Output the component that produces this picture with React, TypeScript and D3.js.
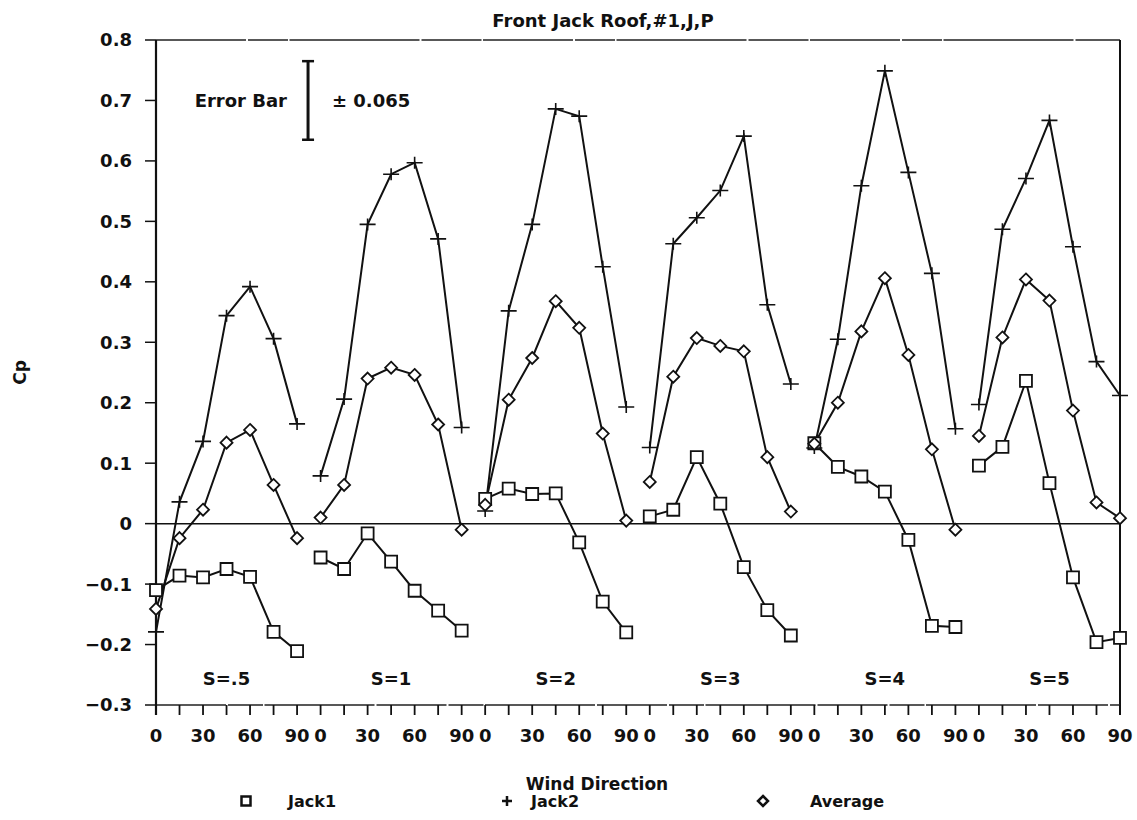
import * as d3 from "d3";

const MARGIN = { top: 40, right: 17, bottom: 115, left: 156 };
const WIDTH = 1137;
const HEIGHT = 820;
const FONT = "'DejaVu Sans', Verdana, sans-serif";

// wind directions measured within each spacing group
const windDirections = [0, 15, 30, 45, 60, 75, 90];
const spacingLabels = ["S=.5", "S=1", "S=2", "S=3", "S=4", "S=5"];
const xTickLabels = [0, 30, 60, 90];
const yTicks = [-0.3, -0.2, -0.1, 0, 0.1, 0.2, 0.3, 0.4, 0.5, 0.6, 0.7, 0.8];

// Cp values, one row per spacing group
const jack1 = [
  [-0.11, -0.086, -0.089, -0.075, -0.088, -0.179, -0.211],
  [-0.056, -0.075, -0.016, -0.063, -0.111, -0.144, -0.177],
  [0.041, 0.058, 0.049, 0.05, -0.031, -0.129, -0.18],
  [0.012, 0.023, 0.11, 0.033, -0.072, -0.143, -0.185],
  [0.133, 0.094, 0.078, 0.053, -0.027, -0.169, -0.171],
  [0.096, 0.127, 0.236, 0.067, -0.089, -0.196, -0.189],
];
const jack2 = [
  [-0.179, 0.036, 0.136, 0.344, 0.392, 0.306, 0.165],
  [0.079, 0.206, 0.495, 0.578, 0.597, 0.471, 0.159],
  [0.021, 0.352, 0.495, 0.686, 0.674, 0.425, 0.193],
  [0.126, 0.463, 0.506, 0.551, 0.641, 0.362, 0.231],
  [0.125, 0.305, 0.559, 0.749, 0.581, 0.414, 0.157],
  [0.197, 0.487, 0.571, 0.667, 0.458, 0.268, 0.212],
];
const average = [
  [-0.141, -0.024, 0.023, 0.134, 0.155, 0.064, -0.024],
  [0.01, 0.064, 0.24, 0.258, 0.246, 0.164, -0.01],
  [0.031, 0.205, 0.274, 0.368, 0.324, 0.149, 0.005],
  [0.069, 0.243, 0.307, 0.294, 0.285, 0.11, 0.02],
  [0.132, 0.2, 0.318, 0.406, 0.279, 0.123, -0.01],
  [0.145, 0.308, 0.404, 0.369, 0.187, 0.035, 0.009],
];

const errorBar = 0.065;
// groups are laid side by side, 105 degrees apart on one axis
const GROUP_STEP = 105;

const squarePath = (s: number) => `M${-s},${-s}H${s}V${s}H${-s}Z`;
const plusPath = (w: number, h: number) => `M${-w},0H${w}M0,${-h}V${h}`;
const diamondPath = (s: number) => `M0,${-s}L${s},0L0,${s}L${-s},0Z`;

export default function App() {
  const x0 = MARGIN.left;
  const x1 = WIDTH - MARGIN.right;
  const y0 = HEIGHT - MARGIN.bottom;
  const y1 = MARGIN.top;

  const xScale = d3
    .scaleLinear()
    .domain([0, GROUP_STEP * (spacingLabels.length - 1) + 90])
    .range([x0, x1]);
  const yScale = d3.scaleLinear().domain([-0.3, 0.8]).range([y0, y1]);

  const gx = (g: number, deg: number) => xScale(g * GROUP_STEP + deg);

  const series = [
    { name: "Jack1", values: jack1, marker: "square" },
    { name: "Jack2", values: jack2, marker: "plus" },
    { name: "Average", values: average, marker: "diamond" },
  ];

  const markerFor = (m: string) =>
    m === "square" ? squarePath(6) : m === "plus" ? plusPath(8, 6) : diamondPath(6);

  const xTicks = d3.range(0, GROUP_STEP * (spacingLabels.length - 1) + 91, 15);

  return (
    <svg width={WIDTH} height={HEIGHT} style={{ position: "absolute", left: 0, top: 0, background: "#fff" }}>
      <rect width={WIDTH} height={HEIGHT} fill="#fff" />
      <g fontFamily={FONT} fontWeight="bold" fill="#111">
        <text x={603} y={27} textAnchor="middle" fontSize={18}>
          Front Jack Roof,#1,J,P
        </text>

        {/* frame */}
        <line x1={x0} x2={x1} y1={y1} y2={y1} stroke="#222" strokeWidth={1.7} strokeDasharray="90 2 40 1.5 130 2 60 1.5" />
        <line x1={x1} x2={x1} y1={y1} y2={y0 + 10} stroke="#111" strokeWidth={2} />
        <line x1={x0} x2={x1} y1={y0} y2={y0} stroke="#222" strokeWidth={1.7} strokeDasharray="70 2 35 1.5 110 2" />
        <line x1={x0} x2={x0} y1={y1} y2={y0 + 10} stroke="#111" strokeWidth={2.2} />
        <line x1={x0} x2={x1} y1={yScale(0)} y2={yScale(0)} stroke="#111" strokeWidth={1.5} />

        {/* y axis */}
        {yTicks.map((t) => (
          <g key={t} transform={`translate(0,${yScale(t)})`}>
            <line x1={x0 - 11} x2={x0} stroke="#111" strokeWidth={1.5} />
            <text x={x0 - 24} dy="0.36em" textAnchor="end" fontSize={18}>
              {t < 0 ? `\u2212${Math.abs(t)}` : t === 0 ? "0" : String(t)}
            </text>
          </g>
        ))}
        <text transform={`translate(26,${yScale(0.25)}) rotate(-90)`} textAnchor="middle" fontSize={17}>
          Cp
        </text>

        {/* x axis */}
        {xTicks.map((t) => (
          <line key={t} x1={xScale(t)} x2={xScale(t)} y1={y0} y2={y0 + 10} stroke="#111" strokeWidth={1.8} />
        ))}
        {spacingLabels.map((s, g) =>
          xTickLabels.map((d) => (
            <text key={s + d} x={gx(g, d)} y={y0 + 37} textAnchor="middle" fontSize={18}>
              {d}
            </text>
          ))
        )}
        {spacingLabels.map((s, g) => (
          <text key={s} x={gx(g, 45)} y={yScale(-0.256) + 7} textAnchor="middle" fontSize={18}>
            {s}
          </text>
        ))}
        <text x={597} y={790} textAnchor="middle" fontSize={17}>
          Wind Direction
        </text>

        {/* error bar annotation */}
        <g>
          <line x1={gx(0, 97)} x2={gx(0, 97)} y1={yScale(0.7 + errorBar)} y2={yScale(0.7 - errorBar)} stroke="#111" strokeWidth={3} />
          <line x1={gx(0, 97) - 6} x2={gx(0, 97) + 6} y1={yScale(0.7 + errorBar)} y2={yScale(0.7 + errorBar)} stroke="#111" strokeWidth={2.5} />
          <line x1={gx(0, 97) - 6} x2={gx(0, 97) + 6} y1={yScale(0.7 - errorBar)} y2={yScale(0.7 - errorBar)} stroke="#111" strokeWidth={2.5} />
          <text x={287} y={yScale(0.7) + 7} textAnchor="end" fontSize={18}>
            Error Bar
          </text>
          <text x={332} y={yScale(0.7) + 7} fontSize={18}>
            ± 0.065
          </text>
        </g>
      </g>

      {/* series lines */}
      {series.map((s) =>
        s.values.map((row, g) => (
          <path
            key={s.name + g}
            d={
              d3
                .line<number>()
                .x((_, i) => gx(g, windDirections[i]))
                .y((d) => yScale(d))(row) ?? ""
            }
            fill="none"
            stroke="#111"
            strokeWidth={2}
          />
        ))
      )}

      {/* markers */}
      {series.map((s) =>
        s.values.map((row, g) =>
          row.map((v, i) => (
            <path
              key={s.name + g + "-" + i}
              transform={`translate(${gx(g, windDirections[i])},${yScale(v)})`}
              d={markerFor(s.marker)}
              fill={s.marker === "plus" ? "none" : "#fff"}
              stroke="#111"
              strokeWidth={s.marker === "plus" ? 1.6 : 1.8}
            />
          ))
        )
      )}

      {/* legend */}
      <g fontFamily={FONT} fontWeight="bold" fill="#111" fontSize={16}>
        <path transform="translate(246,801)" d={squarePath(4.5)} fill="#fff" stroke="#111" strokeWidth={2.5} />
        <text x={288} y={807}>Jack1</text>
        <path transform="translate(507,801)" d={plusPath(5, 5)} stroke="#111" strokeWidth={2.5} />
        <text x={531} y={807}>Jack2</text>
        <path transform="translate(763,801)" d={diamondPath(5)} fill="#fff" stroke="#111" strokeWidth={2.5} />
        <text x={810} y={807}>Average</text>
      </g>
    </svg>
  );
}
